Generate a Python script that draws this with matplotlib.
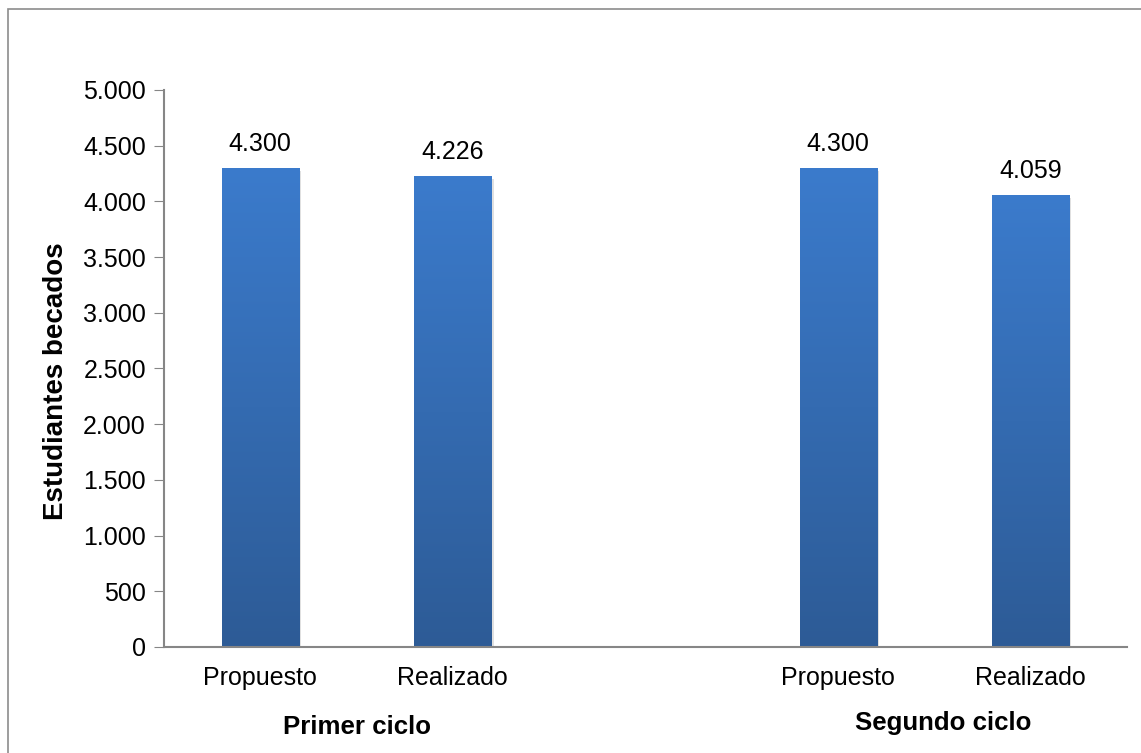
import numpy as np
import matplotlib
matplotlib.use("Agg")
import matplotlib.pyplot as plt
import matplotlib.patches as mpatches
import matplotlib.transforms as mtransforms
from matplotlib.colors import LinearSegmentedColormap
from matplotlib.ticker import FuncFormatter

plt.rcParams['font.family'] = ['Liberation Sans', 'DejaVu Sans']

# datos
categorias = ['Propuesto', 'Realizado', 'Propuesto', 'Realizado']
valores = [4300, 4226, 4300, 4059]
grupos = ['Primer ciclo', 'Segundo ciclo']
y_ticks = [0, 500, 1000, 1500, 2000, 2500, 3000, 3500, 4000, 4500, 5000]

posiciones = [0, 1, 3, 4]   # hueco entre los dos ciclos
ancho = 0.4

def miles(v, pos=None):
    # separador de miles con punto
    return f"{int(v):,}".replace(',', '.')

fig = plt.figure(figsize=(11.41, 7.53), dpi=100)
ax = fig.add_axes([0.1437, 0.1408, 0.844, 0.7397])

# marco gris de la figura
marco = mpatches.Rectangle((0.007, -0.2), 1.2, 1.188, transform=fig.transFigure,
                           fill=False, edgecolor='#8c8c8c', linewidth=1.2)
fig.patches.append(marco)

grad = LinearSegmentedColormap.from_list('azul', ['#2d5b96', '#3b7bcc'])
img = np.linspace(0, 1, 256).reshape(-1, 1)

for x, v in zip(posiciones, valores):
    # sombra suave
    sombra = mpatches.Rectangle((x - ancho / 2 + 0.012, -25), ancho, v, facecolor='#000000',
                                alpha=0.12, edgecolor='none', zorder=1)
    ax.add_patch(sombra)
    barra = ax.bar(x, v, width=ancho, color='none', edgecolor='none', zorder=2)[0]
    im = ax.imshow(img, cmap=grad, origin='lower', aspect='auto',
                   extent=[x - ancho / 2, x + ancho / 2, 0, v], zorder=2)
    im.set_clip_path(barra)
    ax.text(x, v + 110, miles(v), ha='center', va='bottom', fontsize=18)

ax.set_xlim(-0.5, 4.5)
ax.set_ylim(0, 5000)
ax.set_yticks(y_ticks)
ax.yaxis.set_major_formatter(FuncFormatter(miles))
ax.set_xticks(posiciones)
ax.set_xticklabels(categorias)
ax.tick_params(axis='y', labelsize=18, length=7, color='#868686', pad=6)
ax.tick_params(axis='x', labelsize=18, length=0, pad=14)

for s in ['top', 'right']:
    ax.spines[s].set_visible(False)
for s in ['left', 'bottom']:
    ax.spines[s].set_color('#868686')
    ax.spines[s].set_linewidth(1.5)

# etiquetas de grupo
trans = mtransforms.blended_transform_factory(ax.transData, fig.transFigure)
ax.text(0.5, 0.034, grupos[0], transform=trans, ha='center', va='center',
        fontsize=18.6, fontweight='bold')
ax.text(3.545, 0.04, grupos[1], transform=trans, ha='center', va='center',
        fontsize=18.6, fontweight='bold')

fig.text(0.049, 0.494, 'Estudiantes becados', rotation=90, ha='center', va='center',
         fontsize=20, fontweight='bold')

fig.savefig('out.png', dpi=100)
